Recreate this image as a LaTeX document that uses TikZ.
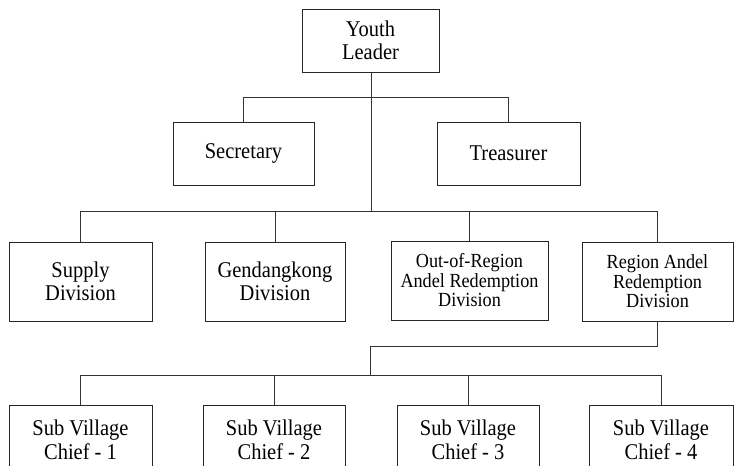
\documentclass[tikz,border=0pt]{standalone}
\usepackage{fontspec}
\setmainfont[FakeStretch=0.91]{Liberation Serif}
\begin{document}
\begin{tikzpicture}[x=1pt,y=-1pt,
  box/.style={draw=black!85,line width=0.9pt,align=center,inner sep=0pt,
    font=\fontsize{22.5}{23.5}\selectfont},
  smallbox/.style={box,font=\fontsize{20}{19.5}\selectfont},
  conn/.style={draw=black!80,line width=0.9pt}]
\clip (0,0) rectangle (734,466);
\node[box,minimum width=137,minimum height=63] (yl) at (370.5,40.5) {Youth\\Leader};
\node[box,minimum width=141,minimum height=63] (sec) at (243.5,153.5) {Secretary};
\node[box,minimum width=143,minimum height=63] (tre) at (508.5,153.5) {Treasurer};
\node[box,minimum width=143,minimum height=79] (sup) at (80.5,281.5) {Supply\\Division};
\node[box,minimum width=140,minimum height=79] (gen) at (275,281.5) {Gendangkong\\Division};
\node[smallbox,minimum width=157,minimum height=79] (out) at (469.5,280.5) {Out-of-Region\\Andel Redemption\\Division};
\node[smallbox,minimum width=151,minimum height=79] (reg) at (657.5,281.5) {Region Andel\\Redemption\\Division};
\node[box,minimum width=143,minimum height=70] (s1) at (80.5,440) {Sub Village\\Chief - 1};
\node[box,minimum width=142,minimum height=70] (s2) at (274,440) {Sub Village\\Chief - 2};
\node[box,minimum width=142,minimum height=70] (s3) at (468,440) {Sub Village\\Chief - 3};
\node[box,minimum width=144,minimum height=70] (s4) at (661,440) {Sub Village\\Chief - 4};
\coordinate (b1) at (371,97);
\coordinate (b2) at (371,211);
\coordinate (b3) at (370,346);
\coordinate (b4) at (370,375);
\draw[conn] (yl.south -| b1) -- (b2);
\draw[conn] (sec.north) |- (tre.north |- b1) -- (tre.north);
\draw[conn] (sup.north) |- (reg.north |- b2) -- (reg.north);
\draw[conn] (gen.north) -- (gen.north |- b2);
\draw[conn] (out.north) -- (out.north |- b2);
\draw[conn] (reg.south) |- (b3) -- (b4);
\draw[conn] (s1.north) |- (s4.north |- b4) -- (s4.north);
\draw[conn] (s2.north) -- (s2.north |- b4);
\draw[conn] (s3.north) -- (s3.north |- b4);
\end{tikzpicture}
\end{document}
